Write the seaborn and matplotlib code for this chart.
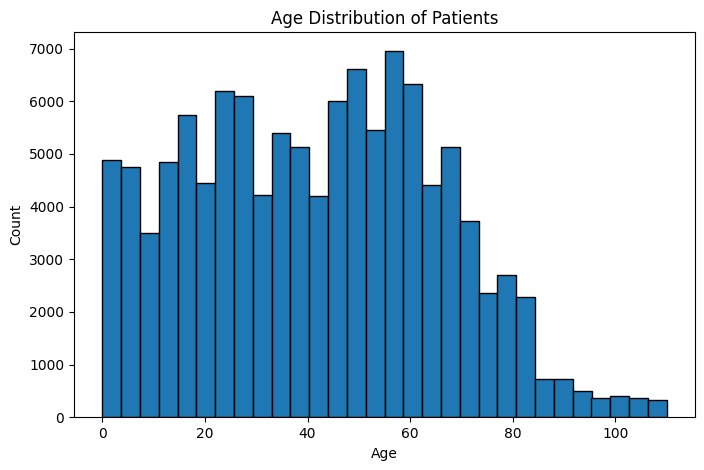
import numpy as np
import pandas as pd
import matplotlib
matplotlib.use("Agg")
import matplotlib.pyplot as plt
import seaborn as sns

# Histogram bin edges (30 bins from 0 to 110) and counts per bin
age_min = 0
age_max = 110
n_bins = 30
counts = [4890, 4760, 3495, 4855, 5730, 4440, 6185, 6090, 4215, 5405,
          5140, 4195, 6000, 6620, 5450, 6960, 6320, 4405, 5140, 3720,
          2358, 2694, 2282, 718, 718, 506, 374, 412, 374, 336]

edges = np.linspace(age_min, age_max, n_bins + 1)
centers = (edges[:-1] + edges[1:]) / 2
df = pd.DataFrame({"Age": centers, "Count": counts})

fig = plt.figure(figsize=(7.04, 4.70), dpi=100)
ax = fig.add_axes([74 / 704, 1 - 417.3 / 470, (695 - 74) / 704, (417.3 - 32.3) / 470])
sns.histplot(data=df, x="Age", weights="Count", bins=n_bins,
             binrange=(age_min, age_max), ax=ax,
             color="#1f77b4", edgecolor="black", alpha=1.0, linewidth=1.0)
ax.set_title("Age Distribution of Patients")
ax.set_xlabel("Age")
ax.set_ylabel("Count")
fig.savefig("out.png", dpi=100)
